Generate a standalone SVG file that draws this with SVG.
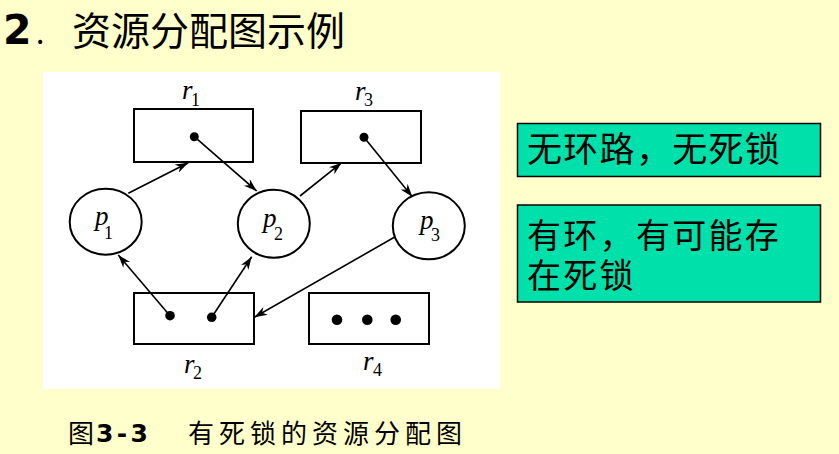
<svg xmlns="http://www.w3.org/2000/svg" width="839" height="454" viewBox="0 0 839 454">
<style>
.bg{fill:#FFFFCC}
.panel{fill:#FFFFFF}
.res{fill:none;stroke:#000;stroke-width:2}
.proc{fill:none;stroke:#000;stroke-width:2}
.dot{fill:#000}
.edge{stroke:#000;stroke-width:1.6;fill:none;marker-end:url(#ah)}
.lab{font-family:"Liberation Serif","Times New Roman",serif;font-style:italic;font-size:27px;fill:#000}
.sub{font-family:"Liberation Serif","Times New Roman",serif;font-size:18px;fill:#000}
.cjk{font-family:"Noto Sans CJK SC","Noto Sans",sans-serif;fill:#000}
.note{fill:#00E0AA;stroke:#000;stroke-width:1.5}
</style>
<defs>
<marker id="ah" markerUnits="userSpaceOnUse" markerWidth="14" markerHeight="10" refX="13" refY="4.5" orient="auto">
<path d="M0,0 L13,4.5 L0,9 L4,4.5 Z" fill="#000"/>
</marker>
</defs>
<rect class="bg" x="0" y="0" width="839" height="454"/>
<g id="title">
<text x="3" y="44" font-family="'DejaVu Sans',Verdana,sans-serif" font-weight="bold" font-size="41">2</text>
<text x="36" y="44" class="cjk" font-size="30">.</text>
<text x="72" y="45" class="cjk" font-size="39">资源分配图示例</text>
</g>
<rect class="panel" x="43" y="72" width="457" height="317"/>
<g id="connectors">
<line class="edge" x1="128.3" y1="193.3" x2="188.3" y2="162.7"/>
<line class="edge" x1="194.3" y1="136.7" x2="256.7" y2="191"/>
<line class="edge" x1="300" y1="196" x2="341.7" y2="162.7"/>
<line class="edge" x1="364" y1="137.3" x2="412.3" y2="196.7"/>
<line class="edge" x1="170" y1="315.7" x2="118.3" y2="255"/>
<line class="edge" x1="211.7" y1="317.3" x2="251.7" y2="256.7"/>
<line class="edge" x1="394.3" y1="237.3" x2="254.3" y2="317.3"/>
</g>
<g id="r1">
<rect class="res" x="134" y="109" width="119" height="53"/>
<circle class="dot" cx="194.3" cy="136.7" r="4.5"/>
<text class="lab" x="182" y="99">r</text><text class="sub" x="191" y="106">1</text>
</g>
<g id="r3">
<rect class="res" x="301" y="111" width="120" height="52"/>
<circle class="dot" cx="364" cy="137.3" r="4.5"/>
<text class="lab" x="355" y="100">r</text><text class="sub" x="364" y="106">3</text>
</g>
<g id="r2">
<rect class="res" x="134" y="293" width="120" height="51"/>
<circle class="dot" cx="170" cy="315.7" r="4.8"/>
<circle class="dot" cx="211.7" cy="317.3" r="4.8"/>
<text class="lab" x="184" y="373">r</text><text class="sub" x="193" y="379">2</text>
</g>
<g id="r4">
<rect class="res" x="309" y="293" width="120" height="51"/>
<circle class="dot" cx="337" cy="319.7" r="5.3"/>
<circle class="dot" cx="367.3" cy="319.7" r="5.3"/>
<circle class="dot" cx="395.7" cy="319.7" r="5.3"/>
<text class="lab" x="363" y="370">r</text><text class="sub" x="373" y="376">4</text>
</g>
<g id="p1">
<ellipse class="proc" cx="105.7" cy="221.7" rx="36" ry="33"/>
<text class="lab" x="95" y="225">p</text><text class="sub" x="104" y="239">1</text>
</g>
<g id="p2">
<ellipse class="proc" cx="273.8" cy="223.8" rx="36" ry="34"/>
<text class="lab" x="263" y="227">p</text><text class="sub" x="274" y="240">2</text>
</g>
<g id="p3">
<ellipse class="proc" cx="428.8" cy="225.8" rx="36" ry="33.5"/>
<text class="lab" x="420" y="229">p</text><text class="sub" x="431" y="241">3</text>
</g>
<g id="note1">
<rect class="note" x="517.5" y="123.5" width="303" height="53"/>
<text class="cjk" x="527" y="162" font-size="35" letter-spacing="1.3">无环路，无死锁</text>
</g>
<g id="note2">
<rect class="note" x="517.5" y="205" width="303" height="97"/>
<text class="cjk" x="527" y="248" font-size="34" letter-spacing="2.3">有环，有可能存</text>
<text class="cjk" x="527" y="288" font-size="34" letter-spacing="2.3">在死锁</text>
</g>
<g id="caption">
<text class="cjk" x="68" y="443" font-size="26">图</text>
<text x="96" y="442" font-family="'DejaVu Sans',Verdana,sans-serif" font-weight="bold" font-size="25" textLength="52" lengthAdjust="spacing">3-3</text>
<text class="cjk" x="188" y="443" font-size="26" letter-spacing="5">有死锁的资源分配图</text>
</g>
</svg>
